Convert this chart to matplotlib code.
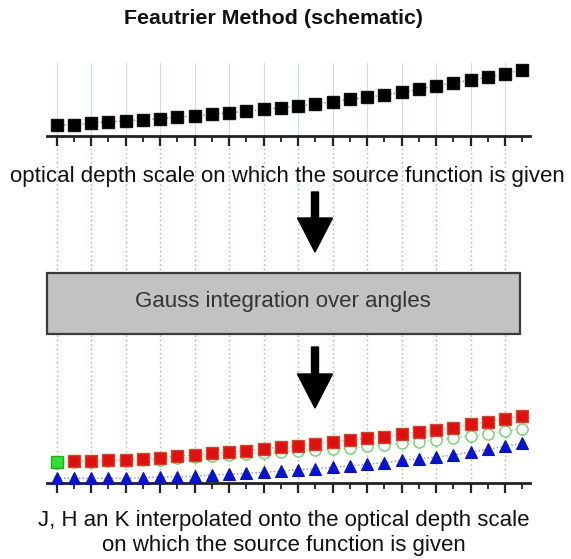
import matplotlib
matplotlib.use("Agg")
import matplotlib.pyplot as plt
from matplotlib.patches import Rectangle, FancyArrow
import numpy as np

plt.rcParams['font.family'] = ['Liberation Sans', 'DejaVu Sans']

# ---- data (heights above axis, arbitrary units) ----
depth_index = list(range(28))
source_fn = [11.0, 11.3, 13.0, 14.0, 15.3, 16.3, 17.3, 19.0, 20.0, 21.7, 23.3, 24.7, 26.7, 28.3,
             30.0, 32.0, 34.3, 36.7, 38.7, 41.0, 43.7, 46.7, 50.0, 53.3, 55.7, 58.7, 62.3, 66.0]
J_vals = [20.7, 21.7, 22.3, 22.7, 23.3, 24.3, 25.3, 27.0, 28.0, 29.7, 31.0, 32.3, 34.0, 36.3,
          37.3, 39.3, 41.0, 42.7, 44.7, 46.3, 48.7, 51.0, 53.3, 55.3, 58.7, 61.3, 64.3, 67.3]
K_vals = [20.3, 21.0, 21.3, 21.7, 22.0, 22.7, 23.3, 24.7, 25.7, 27.0, 28.3, 29.0, 30.0, 31.3,
          32.3, 32.7, 33.7, 35.0, 36.7, 38.3, 39.7, 41.3, 43.3, 45.0, 47.3, 49.3, 51.7, 54.3]
H_vals = [4.7, 4.7, 4.7, 4.7, 5.0, 5.3, 6.0, 6.3, 6.7, 8.0, 8.7, 9.7, 10.7, 11.7,
          13.3, 14.3, 15.7, 17.3, 18.7, 20.3, 22.7, 24.3, 26.0, 28.0, 31.0, 33.7, 36.7, 39.7]

title = "Feautrier Method (schematic)"
top_label = "optical depth scale on which the source function is given"
box_label = "Gauss integration over angles"
bottom_label = "J, H an K interpolated onto the optical depth scale\non which the source function is given"

W, H = 571, 559
fig = plt.figure(figsize=(W / 100, H / 100), dpi=100)

def fx(px):
    return px / W

def fy(py):
    return 1 - py / H

x0px, x1px = 46.7, 530.0
xlim = (-0.58, 27.44)
major = depth_index[::2]
minor = depth_index[1::2]
grid_green = '#79cf79'

def style_axis(ax):
    ax.set_xlim(*xlim)
    for s in ['top', 'left', 'right']:
        ax.spines[s].set_visible(False)
    ax.spines['bottom'].set_linewidth(2.0)
    ax.spines['bottom'].set_color('#222222')
    ax.set_yticks([])
    ax.set_xticks(major)
    ax.set_xticks(minor, minor=True)
    ax.tick_params(axis='x', which='major', length=7, width=1.6, color='#222222', labelbottom=False)
    ax.tick_params(axis='x', which='minor', length=4, width=1.3, color='#222222', labelbottom=False)
    ax.patch.set_alpha(0)

# ---- bottom / middle axes (dotted grid runs through middle) ----
axb = fig.add_axes([fx(x0px), fy(483), fx(x1px) - fx(x0px), fy(140) - fy(483)])
style_axis(axb)
axb.set_ylim(0, 343)
for xv in major:
    axb.axvline(xv, color=grid_green, lw=1.0, ls=(0, (1, 2.2)), zorder=0)
axb.plot(depth_index, K_vals, ls=':', color='#9fdc9f', lw=1.0, marker='o', ms=8,
         mfc='white', mec='#7fd07f', mew=1.1, zorder=2, clip_on=False)
axb.plot(depth_index[1:], J_vals[1:], ls=':', color='#d9a0a0', lw=1.0, marker='s', ms=8,
         mfc='#e01010', mec='#c84a2a', mew=1.0, zorder=3, clip_on=False)
axb.plot(depth_index[:1], J_vals[:1], ls='none', marker='s', ms=8,
         mfc='#33dd33', mec='#22aa22', mew=1.0, zorder=3, clip_on=False)
axb.plot(depth_index, H_vals, ls=':', color='#8a8ab0', lw=1.0, marker='^', ms=9,
         mfc='#0a14d0', mec='#0a14b0', mew=0.8, zorder=4, clip_on=False)

# ---- top axes ----
axt = fig.add_axes([fx(x0px), fy(136), fx(x1px) - fx(x0px), fy(63) - fy(136)])
style_axis(axt)
axt.set_ylim(0, 73)
for xv in major:
    axt.axvline(xv, color='#c6e9c6', lw=0.8, zorder=0)
axt.plot(depth_index, source_fn, ls=':', color='#888888', lw=1.0, marker='s', ms=8,
         mfc='black', mec='#111111', mew=1.0, zorder=3, clip_on=False)

# ---- texts ----
fig.text(fx(273), fy(19), title, ha='center', va='center', fontsize=15.4, fontweight='bold', color='#111111')
fig.text(fx(287), fy(176), top_label, ha='center', va='center', fontsize=16, color='#111111')
fig.text(fx(284), fy(533), bottom_label, ha='center', va='center', fontsize=16,
         color='#111111', linespacing=1.22)

# ---- box ----
box = Rectangle((fx(46.7), fy(333.5)), fx(520) - fx(46.7), fy(273) - fy(333.5),
                transform=fig.transFigure, facecolor='#c2c2c2', edgecolor='#3a3a3a', lw=1.6, zorder=5)
fig.add_artist(box)
fig.text(fx(283), fy(302), box_label, ha='center', va='center', fontsize=16, color='#333333', zorder=6)

# ---- arrows ----
for ytop, ytip in [(192, 252), (347, 408)]:
    arr = FancyArrow(fx(315), fy(ytop), 0, fy(ytip) - fy(ytop), width=fx(7), head_width=fx(35),
                     head_length=fy(ytip - 34) - fy(ytip), length_includes_head=True,
                     transform=fig.transFigure, color='black', zorder=6)
    fig.add_artist(arr)

fig.savefig('out.png', dpi=100)
